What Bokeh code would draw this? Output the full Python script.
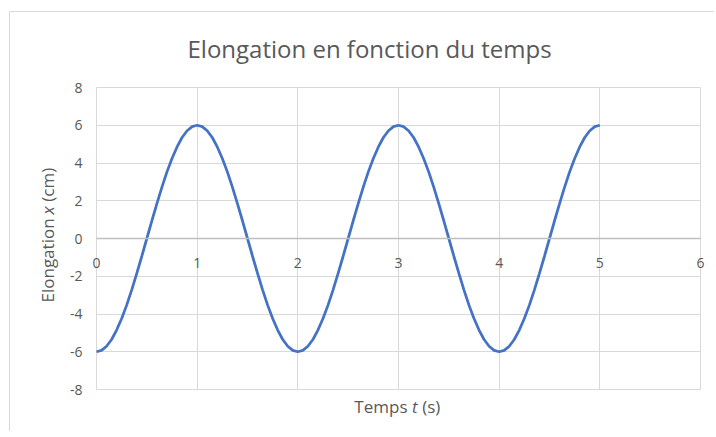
from bokeh.plotting import figure
from bokeh.models import Range1d, FixedTicker, Label
from bokeh.embed import file_html
from bokeh.resources import INLINE

# ---- data ----
t_s = [0.00, 0.05, 0.10, 0.15, 0.20, 0.25, 0.30, 0.35, 0.40, 0.45,
       0.50, 0.55, 0.60, 0.65, 0.70, 0.75, 0.80, 0.85, 0.90, 0.95,
       1.00, 1.05, 1.10, 1.15, 1.20, 1.25, 1.30, 1.35, 1.40, 1.45,
       1.50, 1.55, 1.60, 1.65, 1.70, 1.75, 1.80, 1.85, 1.90, 1.95,
       2.00, 2.05, 2.10, 2.15, 2.20, 2.25, 2.30, 2.35, 2.40, 2.45,
       2.50, 2.55, 2.60, 2.65, 2.70, 2.75, 2.80, 2.85, 2.90, 2.95,
       3.00, 3.05, 3.10, 3.15, 3.20, 3.25, 3.30, 3.35, 3.40, 3.45,
       3.50, 3.55, 3.60, 3.65, 3.70, 3.75, 3.80, 3.85, 3.90, 3.95,
       4.00, 4.05, 4.10, 4.15, 4.20, 4.25, 4.30, 4.35, 4.40, 4.45,
       4.50, 4.55, 4.60, 4.65, 4.70, 4.75, 4.80, 4.85, 4.90, 4.95,
       5.00]
x_cm = [-6.00, -5.93, -5.71, -5.35, -4.85, -4.24, -3.53, -2.72, -1.85, -0.94,
        0.00, 0.94, 1.85, 2.72, 3.53, 4.24, 4.85, 5.35, 5.71, 5.93,
        6.00, 5.93, 5.71, 5.35, 4.85, 4.24, 3.53, 2.72, 1.85, 0.94,
        0.00, -0.94, -1.85, -2.72, -3.53, -4.24, -4.85, -5.35, -5.71, -5.93,
        -6.00, -5.93, -5.71, -5.35, -4.85, -4.24, -3.53, -2.72, -1.85, -0.94,
        0.00, 0.94, 1.85, 2.72, 3.53, 4.24, 4.85, 5.35, 5.71, 5.93,
        6.00, 5.93, 5.71, 5.35, 4.85, 4.24, 3.53, 2.72, 1.85, 0.94,
        0.00, -0.94, -1.85, -2.72, -3.53, -4.24, -4.85, -5.35, -5.71, -5.93,
        -6.00, -5.93, -5.71, -5.35, -4.85, -4.24, -3.53, -2.72, -1.85, -0.94,
        0.00, 0.94, 1.85, 2.72, 3.53, 4.24, 4.85, 5.35, 5.71, 5.93,
        6.00]
x_ticks = [0, 1, 2, 3, 4, 5, 6]
x_tick_labels = ["0", "1", "2", "3", "4", "5", "6"]
y_ticks = [-8, -6, -4, -2, 0, 2, 4, 6, 8]
y_tick_labels = ["-8", "-6", "-4", "-2", "0", "2", "4", "6", "8"]
title_text = "Elongation en fonction du temps"
x_title_parts = ["Temps", "t", "(s)"]
y_title_parts = ["Elongation", "x", "(cm)"]

FONT = "Open Sans"
GREY_TXT = "#595959"
GRID = "#d9d9d9"

# ---- layout (pixels inside the canvas) ----
W, H = 705, 420
PX_L, PX_R = 86, 690      # where the first / last x tick sit
PY_T, PY_B = 75, 377      # where the top / bottom y tick sit
x0, x1 = x_ticks[0], x_ticks[-1]
y0, y1 = y_ticks[0], y_ticks[-1]
sx = (PX_R - PX_L) / (x1 - x0)
sy = (PY_B - PY_T) / (y1 - y0)
x_range = Range1d(x0 - PX_L / sx, x1 + (W - PX_R) / sx)
y_range = Range1d(y0 - (H - PY_B) / sy, y1 + PY_T / sy)

p = figure(width=W, height=H, output_backend="svg", toolbar_location=None,
           x_range=x_range, y_range=y_range,
           min_border_left=0, min_border_right=0, min_border_top=0, min_border_bottom=0)
p.margin = (11, 0, 0, 9)
p.styles = {"border-left": "1px solid #d9d9d9", "border-top": "1px solid #d9d9d9"}
p.background_fill_color = "white"
p.border_fill_color = "white"
p.outline_line_color = None
p.title = None

p.xgrid.ticker = FixedTicker(ticks=x_ticks)
p.ygrid.ticker = FixedTicker(ticks=y_ticks)
p.xgrid.cross_bounds = (y0, y1)
p.ygrid.cross_bounds = (x0, x1)
for g in (p.xgrid, p.ygrid):
    g.grid_line_color = GRID
    g.grid_line_width = 1

# x axis drawn through y = 0, labels just below it
xa = p.xaxis[0]
xa.fixed_location = 0
xa.bounds = (x0, x1)
xa.ticker = FixedTicker(ticks=x_ticks)
xa.major_label_overrides = {v: s for v, s in zip(x_ticks, x_tick_labels)}
xa.axis_line_color = "#bfbfbf"
xa.axis_line_width = 1.5
xa.major_tick_line_color = None
xa.minor_tick_line_color = None
xa.major_label_standoff = 13
xa.major_label_text_font = FONT
xa.major_label_text_font_size = "14px"
xa.major_label_text_color = GREY_TXT

ya = p.yaxis[0]
ya.fixed_location = 0
ya.bounds = (y0, y1)
ya.ticker = FixedTicker(ticks=y_ticks)
ya.major_label_overrides = {v: s for v, s in zip(y_ticks, y_tick_labels)}
ya.axis_line_color = None
ya.major_tick_line_color = None
ya.minor_tick_line_color = None
ya.major_label_standoff = 8
ya.major_label_text_font = FONT
ya.major_label_text_font_size = "14px"
ya.major_label_text_color = GREY_TXT

p.line(t_s, x_cm, line_color="#4472C4", line_width=2.75)

# title
p.add_layout(Label(x=177, y=H - 36, x_units="screen", y_units="screen", text=title_text,
                   text_align="left", text_baseline="middle", text_font=FONT,
                   text_font_size="24px", text_color=GREY_TXT))

# x-axis title "Temps t (s)"
xt_x = [397, 401.5, 411.7]
xt_align = ["right", "left", "left"]
xt_style = ["normal", "italic", "normal"]
for txt, xx, al, st in zip(x_title_parts, xt_x, xt_align, xt_style):
    p.add_layout(Label(x=xx, y=H - 394, x_units="screen", y_units="screen", text=txt,
                       text_align=al, text_baseline="middle", text_font=FONT,
                       text_font_size="17px", text_font_style=st, text_color=GREY_TXT))

# y-axis title "Elongation x (cm)" (rotated)
yt_y = [130, 218, 230.8]
yt_style = ["normal", "italic", "normal"]
for txt, yy, st in zip(y_title_parts, yt_y, yt_style):
    p.add_layout(Label(x=37, y=yy, x_units="screen", y_units="screen", text=txt,
                       angle=1.5707963, text_align="left", text_baseline="middle",
                       text_font=FONT, text_font_size="17px", text_font_style=st,
                       text_color=GREY_TXT))

open("out.html", "w").write(file_html(p, INLINE))
